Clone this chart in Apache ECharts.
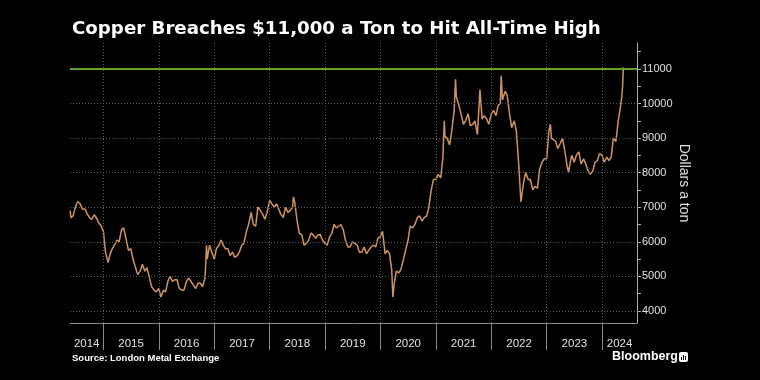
<!DOCTYPE html>
<html>
<head>
<meta charset="utf-8">
<script src="https://cdn.jsdelivr.net/npm/echarts@6/dist/echarts.min.js"></script>
<style>
html,body{margin:0;padding:0;background:#000;}
#chart{width:760px;height:380px;}
</style>
</head>
<body>
<div id="chart"></div>
<script>
// ---- Data (LME copper, dollars a ton) ----
var dates = [
'2014-05-27','2014-06-01','2014-06-15','2014-07-01','2014-07-15','2014-08-01','2014-08-15','2014-09-01','2014-09-15','2014-10-01','2014-10-15','2014-11-01','2014-11-15','2014-12-01','2014-12-15',
'2015-01-01','2015-01-15','2015-02-01','2015-02-15','2015-03-01','2015-03-15','2015-04-01','2015-04-15','2015-05-01','2015-05-15','2015-06-01','2015-06-15','2015-07-01','2015-07-15','2015-08-01','2015-08-15','2015-09-01','2015-09-15','2015-10-01','2015-10-15','2015-11-01','2015-11-15','2015-12-01','2015-12-15',
'2016-01-01','2016-01-15','2016-02-01','2016-02-15','2016-03-01','2016-03-15','2016-04-01','2016-04-15','2016-05-01','2016-05-15','2016-06-01','2016-06-15','2016-07-01','2016-07-15','2016-08-01','2016-08-15','2016-09-01','2016-09-15','2016-10-01','2016-10-15','2016-11-01','2016-11-11','2016-11-15','2016-12-01','2016-12-15',
'2017-01-01','2017-01-15','2017-02-01','2017-02-15','2017-03-01','2017-03-15','2017-04-01','2017-04-15','2017-05-01','2017-05-15','2017-06-01','2017-06-15','2017-07-01','2017-07-15','2017-08-01','2017-08-15','2017-09-01','2017-09-15','2017-10-01','2017-10-15','2017-11-01','2017-11-15','2017-12-01','2017-12-15',
'2018-01-01','2018-01-15','2018-02-01','2018-02-15','2018-03-01','2018-03-15','2018-04-01','2018-04-15','2018-05-01','2018-05-15','2018-06-01','2018-06-07','2018-06-15','2018-07-01','2018-07-15','2018-08-01','2018-08-15','2018-09-01','2018-09-15','2018-10-01','2018-10-15','2018-11-01','2018-11-15','2018-12-01','2018-12-15',
'2019-01-01','2019-01-15','2019-02-01','2019-02-15','2019-03-01','2019-03-15','2019-04-01','2019-04-15','2019-05-01','2019-05-15','2019-06-01','2019-06-15','2019-07-01','2019-07-15','2019-08-01','2019-08-15','2019-09-01','2019-09-15','2019-10-01','2019-10-15','2019-11-01','2019-11-15','2019-12-01','2019-12-15',
'2020-01-01','2020-01-15','2020-02-01','2020-02-15','2020-03-01','2020-03-15','2020-03-23','2020-04-01','2020-04-15','2020-05-01','2020-05-15','2020-06-01','2020-06-15','2020-07-01','2020-07-15','2020-08-01','2020-08-15','2020-09-01','2020-09-15','2020-10-01','2020-10-15','2020-11-01','2020-11-15','2020-12-01','2020-12-15',
'2021-01-01','2021-01-15','2021-02-01','2021-02-15','2021-02-25','2021-03-01','2021-03-15','2021-04-01','2021-04-15','2021-05-01','2021-05-10','2021-05-15','2021-06-01','2021-06-15','2021-07-01','2021-07-15','2021-08-01','2021-08-15','2021-09-01','2021-09-15','2021-10-01','2021-10-18','2021-11-01','2021-11-15','2021-12-01','2021-12-15',
'2022-01-01','2022-01-15','2022-02-01','2022-02-15','2022-03-01','2022-03-07','2022-03-15','2022-04-01','2022-04-15','2022-05-01','2022-05-15','2022-06-01','2022-06-15','2022-07-01','2022-07-15','2022-08-01','2022-08-15','2022-09-01','2022-09-15','2022-10-01','2022-10-15','2022-11-01','2022-11-15','2022-12-01','2022-12-15',
'2023-01-01','2023-01-15','2023-01-25','2023-02-01','2023-02-15','2023-03-01','2023-03-15','2023-04-01','2023-04-15','2023-05-01','2023-05-15','2023-05-25','2023-06-01','2023-06-15','2023-07-01','2023-07-15','2023-08-01','2023-08-15','2023-09-01','2023-09-15','2023-10-01','2023-10-15','2023-11-01','2023-11-15','2023-12-01','2023-12-15',
'2024-01-01','2024-01-15','2024-02-01','2024-02-15','2024-03-01','2024-03-15','2024-04-01','2024-04-15','2024-05-01','2024-05-10','2024-05-15','2024-05-20'
];
var prices = [
6900,6700,6750,7000,7160,7100,6950,6950,6820,6700,6650,6780,6700,6550,6480,
6300,5700,5400,5650,5800,5900,6050,6000,6350,6400,6050,5750,5800,5500,5250,5050,5150,5350,5150,5250,4950,4700,4600,4550,
4650,4400,4600,4550,4850,5000,4850,4900,4900,4650,4600,4600,4850,4950,4850,4750,4650,4800,4800,4700,4950,5900,5500,5900,5700,
5500,5800,5900,6050,5900,5800,5800,5600,5700,5550,5600,5700,5900,5950,6300,6500,6850,6500,6450,7000,6900,6800,6650,6850,
7200,7100,7000,7100,6950,6800,6700,7000,6850,6900,7000,7300,7150,6600,6250,6200,5900,5950,6050,6250,6200,6100,6200,6200,6050,
5950,5900,6150,6250,6500,6400,6450,6500,6350,6050,5850,5850,6000,5950,5900,5700,5700,5850,5650,5750,5850,5900,5850,6100,
6150,6300,5650,5750,5650,5200,4400,4800,5150,5100,5200,5500,5750,6050,6450,6400,6500,6700,6750,6600,6700,6750,7000,7500,7800,
7800,7950,7850,8400,9500,9050,9000,8800,9200,9800,10700,10200,9950,9700,9400,9500,9700,9350,9400,9500,9100,10400,9550,9650,9550,9400,
9700,9800,9650,9950,10000,10800,10100,10350,10250,9700,9300,9500,9200,8200,7150,7700,8000,7800,7800,7500,7600,7550,8100,8300,8400,
8400,9200,9400,9000,8950,8900,8700,8850,9000,8600,8200,8000,8200,8500,8300,8500,8600,8250,8400,8250,8050,7950,8050,8300,8350,8550,
8500,8300,8450,8350,8450,9000,8900,9450,9900,10200,10500,11050
];
var yTicks = [4000,5000,6000,7000,8000,9000,10000,11000];
var yMinorTicks = [4000,4500,5000,5500,6000,6500,7000,7500,8000,8500,9000,9500,10000,10500,11000,11500];
var years = [2014,2015,2016,2017,2018,2019,2020,2021,2022,2023,2024];
var recordLevel = 11000;

var axisMin = +new Date('2014-05-26');
var axisMax = +new Date('2024-08-18');

var seriesData = dates.map(function(d,i){ return [+new Date(d), prices[i]]; });
var yearStarts = years.slice(1).map(function(y){ return +new Date(y + '-01-01'); });
var yearMids = years.map(function(y){
  var a = Math.max(+new Date(y + '-01-01'), axisMin);
  var b = Math.min(+new Date((y+1) + '-01-01'), axisMax);
  return (a + b) / 2;
});

var gridLines = yTicks.filter(function(v){ return v !== recordLevel; }).map(function(v){ return {yAxis: v}; })
  .concat(yearStarts.map(function(t){ return {xAxis: t}; }));

var chart = echarts.init(document.getElementById('chart'), null, {renderer:'canvas'});
chart.setOption({
  backgroundColor: '#000',
  animation: false,
  title: {
    text: 'Copper Breaches $11,000 a Ton to Hit All-Time High',
    left: 67, top: 15,
    textStyle: {color:'#fff', fontSize: 18.2, fontWeight:'bold', fontFamily:'DejaVu Sans'}
  },
  grid: {left: 70, right: 123, top: 43, bottom: 57},
  xAxis: {
    type: 'value',
    min: axisMin, max: axisMax,
    axisLine: {show: true, lineStyle: {color:'#8a8a8a', width: 1}},
    axisTick: {show: true, customValues: yearStarts, length: 27, lineStyle: {color:'#8a8a8a'}},
    axisLabel: {
      customValues: yearMids, color:'#e0e0e0', fontSize: 11.5, fontFamily:'Liberation Sans', margin: 15,
      formatter: function(v){ return String(new Date(v).getFullYear()); },
      hideOverlap: false, showMinLabel: true, showMaxLabel: true
    },
    splitLine: {show: false}
  },
  yAxis: {
    type: 'value',
    position: 'right',
    min: 3650, max: 11750,
    name: 'Dollars a ton',
    nameLocation: 'middle',
    nameRotate: -90,
    nameGap: 40,
    nameMoveOverlap: false,
    nameTextStyle: {color:'#e0e0e0', fontSize: 14, fontFamily:'Liberation Sans'},
    axisLine: {show: true, lineStyle: {color:'#b0b0b0', width: 1}},
    axisTick: {show: true, customValues: yMinorTicks, length: 4, lineStyle: {color:'#b0b0b0'}},
    axisLabel: {customValues: yTicks, color:'#e0e0e0', fontSize: 11, fontFamily:'Liberation Sans', margin: 5,
      formatter: function(v){ return String(v); }},
    splitLine: {show: false}
  },
  series: [
    {
      type: 'line', data: [], silent: true, z: 1,
      markLine: {
        silent: true, symbol: 'none', label: {show:false},
        lineStyle: {color:'#5a5a5a', type:[1,2], width:1},
        data: gridLines
      }
    },
    {
      type: 'line', data: [], silent: true, z: 2,
      markLine: {
        silent: true, symbol: 'none', label: {show:false},
        lineStyle: {color:'#6aa12e', type:'solid', width:2},
        data: [{yAxis: recordLevel}]
      }
    },
    {
      type: 'line', data: seriesData, showSymbol: false, z: 3,
      lineStyle: {color:'#cf935f', width: 1.5},
      itemStyle: {color:'#cf935f'}
    }
  ],
  graphic: [
    {type:'text', left: 72, top: 353, style:{text:'Source: London Metal Exchange', fill:'#fff', font:'bold 9.5px "Liberation Sans"'}},
    {type:'text', left: 612, top: 350, style:{text:'Bloomberg', fill:'#fff', font:'bold 12.5px "Liberation Sans"'}},
    {type:'rect', left: 679, top: 352, shape:{width:9, height:10, r:2}, style:{fill:'#fff'}},
    {type:'rect', left: 681, top: 357, shape:{width:1, height:3}, style:{fill:'#000'}},
    {type:'rect', left: 683, top: 355, shape:{width:1, height:5}, style:{fill:'#000'}},
    {type:'rect', left: 685, top: 356, shape:{width:1, height:4}, style:{fill:'#000'}}
  ]
});
</script>
</body>
</html>
